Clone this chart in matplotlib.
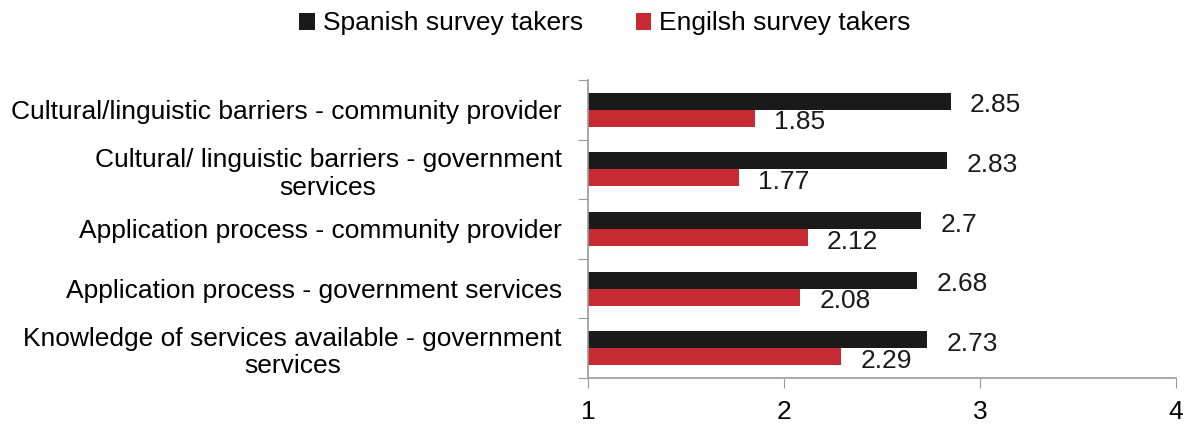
import numpy as np
import matplotlib as mpl
mpl.use('Agg')
import matplotlib.pyplot as plt

plt.rcParams['font.family'] = ['Liberation Sans', 'DejaVu Sans']

categories = ['Cultural/linguistic barriers - community provider',
              'Cultural/ linguistic barriers - government\nservices',
              'Application process - community provider',
              'Application process - government services',
              'Knowledge of services available - government\nservices']
spanish = [2.85, 2.83, 2.7, 2.68, 2.73]
english = [1.85, 1.77, 2.12, 2.08, 2.29]
series_names = ['Spanish survey takers', 'Engilsh survey takers']
colors = ['#1a1a1a', '#c62a33']

fig = plt.figure(figsize=(11.86, 4.26), dpi=100)
ax = fig.add_axes([0.4958, 0.1127, 0.4958, 0.6995])

y = np.arange(len(categories))
h = 0.285
base = 1
b1 = ax.barh(y - h / 2, np.array(spanish) - base, left=base, height=h,
             color=colors[0], label=series_names[0])
b2 = ax.barh(y + h / 2, np.array(english) - base, left=base, height=h,
             color=colors[1], label=series_names[1])

for bars, vals in [(b1, spanish), (b2, english)]:
    for bar, v in zip(bars, vals):
        ax.annotate('%g' % v, (v, bar.get_y() + bar.get_height() / 2),
                    xytext=(14, -3), textcoords='offset points',
                    ha='left', va='center', fontsize=19, color='#1a1a1a')

ax.set_xlim(1, 4)
ax.set_ylim(len(categories) - 0.5, -0.5)
ax.set_xticks([1, 2, 3, 4])
ax.tick_params(axis='x', length=7, color='#9a9a9a', labelsize=19, pad=9)

# category labels sit between the boundary ticks
ax.yaxis.set_major_locator(mpl.ticker.FixedLocator(np.arange(len(categories) + 1) - 0.5))
ax.yaxis.set_major_formatter(mpl.ticker.NullFormatter())
ax.yaxis.set_minor_locator(mpl.ticker.FixedLocator(y))
ax.yaxis.set_minor_formatter(mpl.ticker.FixedFormatter(categories))
ax.tick_params(axis='y', which='major', length=7, color='#9a9a9a')
ax.tick_params(axis='y', which='minor', length=0, labelsize=19, pad=19)
for lbl in ax.get_yticklabels(minor=True):
    lbl.set_multialignment('center')

for s in ['top', 'right']:
    ax.spines[s].set_visible(False)
for s in ['left', 'bottom']:
    ax.spines[s].set_color('#9a9a9a')
    ax.spines[s].set_linewidth(1.2)

fig.legend(loc='center', bbox_to_anchor=(0.51, 0.945), ncol=2, frameon=False,
           fontsize=19, handlelength=0.6, handleheight=0.6, handletextpad=0.3,
           columnspacing=2.0)

fig.savefig('out.png', dpi=100)
